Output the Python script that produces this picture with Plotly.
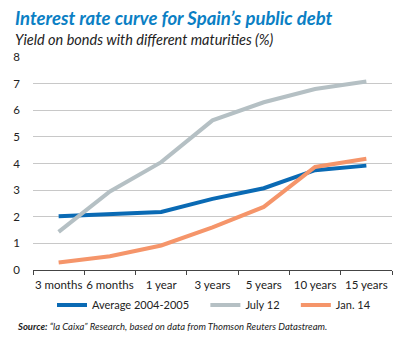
import plotly.graph_objects as go

maturities = ["3 months", "6 months", "1 year", "3 years", "5 years", "10 years", "15 years"]
avg_2004_2005 = [2.02, 2.10, 2.18, 2.67, 3.07, 3.75, 3.92]
july_12 = [1.43, 2.95, 4.05, 5.62, 6.30, 6.80, 7.08]
jan_14 = [0.28, 0.52, 0.92, 1.60, 2.37, 3.87, 4.18]

series_names = ["Average 2004-2005", "July 12", "Jan. 14"]
series_colors = ["#0a6ab4", "#b5c0c4", "#f5956a"]

FONT = "Lato"
PW, PH = 359, 213  # plot area size in px
L, T = 33, 57      # plot area offsets
PAD = "\u00a0" * 4  # extra room after each legend label


def px_x(px):
    return (px - L) / PW


def px_y(py):
    return 1 - (py - T) / PH


fig = go.Figure()
for name, vals, col in zip(series_names, [avg_2004_2005, july_12, jan_14], series_colors):
    fig.add_trace(go.Scatter(
        x=maturities, y=vals, name=name + PAD, mode="lines",
        line=dict(color=col, width=4),
    ))

fig.update_layout(
    width=413, height=338,
    margin=dict(l=L, r=413 - L - PW, t=T, b=338 - T - PH, autoexpand=False),
    paper_bgcolor="white", plot_bgcolor="white",
    font=dict(family=FONT, size=11, color="#222222"),
    showlegend=True,
    legend=dict(
        orientation="h", x=px_x(52), xanchor="left", y=px_y(305), yanchor="middle",
        font=dict(size=11, color="#222222"),
        itemwidth=30, tracegroupgap=0,
    ),
    xaxis=dict(
        type="category", showgrid=False, showline=True, linecolor="#444444", linewidth=1,
        ticks="outside", tickson="boundaries", ticklen=4, tickcolor="#444444",
        tickfont=dict(size=11.5, color="#222222"), tickangle=0, range=[-0.5, 6.5],
        ticklabelstandoff=4,
    ),
    yaxis=dict(
        range=[0, 8], dtick=1, showgrid=True, gridcolor="#c8c8c8", gridwidth=1,
        zeroline=False, showline=False, ticks="", tickfont=dict(size=11.5, color="#222222"),
        ticklabelstandoff=12,
    ),
)

fig.add_annotation(
    xref="paper", yref="paper", x=px_x(13), y=px_y(18),
    xanchor="left", yanchor="middle",
    text="<b><i>Interest rate curve for Spain’s public debt</i></b>",
    showarrow=False, font=dict(family=FONT, size=18.5, color="#0b7fc4"),
)
fig.add_annotation(
    xref="paper", yref="paper", x=px_x(13), y=px_y(39),
    xanchor="left", yanchor="middle",
    text="<i>Yield on bonds with different maturities (%)</i>",
    showarrow=False, font=dict(family=FONT, size=14.5, color="#222222"),
)
fig.add_annotation(
    xref="paper", yref="paper", x=px_x(15), y=px_y(326),
    xanchor="left", yanchor="middle",
    text="<b><i>Source:</i></b><i> “la Caixa” Research, based on data from Thomson Reuters Datastream.</i>",
    showarrow=False, font=dict(family=FONT, size=9.5, color="#222222"),
)

fig.write_html("out.html")
